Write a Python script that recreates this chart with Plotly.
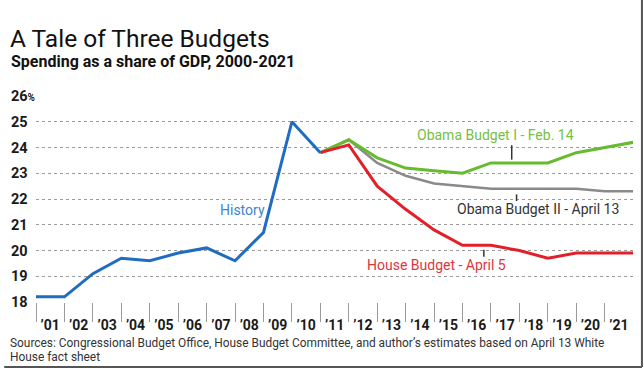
import plotly.graph_objects as go

years_hist = [2000, 2001, 2002, 2003, 2004, 2005, 2006, 2007, 2008, 2009, 2010]
history = [18.2, 18.2, 19.1, 19.7, 19.6, 19.9, 20.1, 19.6, 20.7, 25.0, 23.8]

years_proj = [2010, 2011, 2012, 2013, 2014, 2015, 2016, 2017, 2018, 2019, 2020, 2021]
obama1 = [23.8, 24.3, 23.6, 23.2, 23.1, 23.0, 23.4, 23.4, 23.4, 23.8, 24.0, 24.2]
obama2 = [23.8, 24.3, 23.4, 22.9, 22.6, 22.5, 22.4, 22.4, 22.4, 22.4, 22.3, 22.3]
house = [23.8, 24.1, 22.5, 21.6, 20.8, 20.2, 20.2, 20.0, 19.7, 19.9, 19.9, 19.9]

x_tick_years = list(range(2001, 2022))
x_tick_labels = ["\u2019%02d" % (y % 100) for y in x_tick_years]
y_ticks = [18, 19, 20, 21, 22, 23, 24, 25, 26]

FONT = "Roboto, sans-serif"

BLUE = "#1f6cc0"
GREEN = "#66bb2e"
GRAY = "#8a8a8a"
RED = "#e3202a"

W, H = 644, 370
L, R, T, B = 32, 11, 96, 68
PW, PH = W - L - R, H - T - B


def px(xp):
    return (xp - L) / PW


def py(yp):
    return (H - B - yp) / PH


fig = go.Figure()
fig.add_trace(go.Scatter(x=years_proj, y=obama2, mode="lines", line=dict(color=GRAY, width=2.6), cliponaxis=False, hoverinfo="skip"))
fig.add_trace(go.Scatter(x=years_proj, y=obama1, mode="lines", line=dict(color=GREEN, width=3), cliponaxis=False, hoverinfo="skip"))
fig.add_trace(go.Scatter(x=years_proj, y=house, mode="lines", line=dict(color=RED, width=3), cliponaxis=False, hoverinfo="skip"))
fig.add_trace(go.Scatter(x=years_hist, y=history, mode="lines", line=dict(color=BLUE, width=3), cliponaxis=False, hoverinfo="skip"))

y_text = []
for v in y_ticks:
    if v == 26:
        y_text.append("26<span style='font-size:10px'>%</span>")
    else:
        y_text.append("%d<span style='font-size:10px;color:rgba(0,0,0,0)'>%%</span>" % v)

fig.update_layout(
    width=W, height=H, autosize=False,
    margin=dict(l=L, r=R, t=T, b=B),
    paper_bgcolor="white", plot_bgcolor="white",
    showlegend=False,
    font=dict(family=FONT, color="#222"),
    title=dict(text="A Tale of Three Budgets", x=10 / W, y=1 - 38 / H, xref="container", yref="container",
               xanchor="left", yanchor="middle", font=dict(family=FONT, size=24.5, color="#111")),
    xaxis=dict(range=[2000, 2020.995], tickvals=[y - 0.5 for y in x_tick_years], ticktext=x_tick_labels,
               ticks="outside", ticklen=10, tickcolor="rgba(0,0,0,0)", showgrid=False, zeroline=False, showline=False,
               tickfont=dict(family=FONT, size=14, color="#1a1a1a", weight="bold"),
               minor=dict(ticks="outside", tick0=2000, dtick=1, ticklen=19, tickwidth=1, tickcolor="#9a9a9a", showgrid=False)),
    yaxis=dict(range=[18, 26], tickvals=y_ticks, ticktext=y_text, ticks="", showgrid=True, griddash="dot",
               gridcolor="#9a9a9a", gridwidth=1, zeroline=False, showline=False,
               tickfont=dict(family=FONT, size=14.5, color="#1a1a1a", weight="bold")),
)

annots = [
    dict(text="History", x=2007.26, y=21.56, color="#3d86cc"),
    dict(text="Obama Budget I - Feb. 14", x=2016.17, y=24.48, color="#76bf42"),
    dict(text="Obama Budget II - April 13", x=2017.64, y=21.6, color="#333333"),
    dict(text="House Budget - April 5", x=2014.07, y=19.45, color="#e0343d"),
]
for a in annots:
    fig.add_annotation(text=a["text"], x=a["x"], y=a["y"], xref="x", yref="y", showarrow=False,
                       xanchor="center", yanchor="middle", font=dict(family=FONT, size=14, color=a["color"]))

leaders = [
    (2016.73, 24.09, 23.53),
    (2016.90, 22.18, 21.92),
    (2015.75, 20.03, 19.76),
]
for lx, y0, y1 in leaders:
    fig.add_shape(type="line", xref="x", yref="y", x0=lx, x1=lx, y0=y0, y1=y1, line=dict(color="#333", width=1.5))

fig.add_annotation(text="Spending as a share of GDP, 2000-2021", x=px(5), y=py(61), xref="paper", yref="paper",
                   xanchor="left", yanchor="middle", showarrow=False,
                   font=dict(family=FONT, size=16, color="#111", weight="bold"))
fig.add_annotation(text="Sources: Congressional Budget Office, House Budget Committee, and author\u2019s estimates based on April 13 White",
                   x=px(4), y=py(343), xref="paper", yref="paper", xanchor="left", yanchor="middle", showarrow=False,
                   font=dict(family=FONT, size=11.9, color="#333"))
fig.add_annotation(text="House fact sheet", x=px(4), y=py(357), xref="paper", yref="paper", xanchor="left",
                   yanchor="middle", showarrow=False, font=dict(family=FONT, size=11.9, color="#333"))

# picture frame (drop shadow edge of the original image)
fig.add_shape(type="line", xref="paper", yref="paper", x0=px(642), x1=px(642), y0=py(0), y1=py(367),
              line=dict(color="#555", width=2))
fig.add_shape(type="line", xref="paper", yref="paper", x0=px(0), x1=px(642), y0=py(367), y1=py(367),
              line=dict(color="#555", width=2))

fig.write_html("out.html", config={"displayModeBar": False},
               post_script="document.body.style.margin='0';document.body.style.padding='0';")
